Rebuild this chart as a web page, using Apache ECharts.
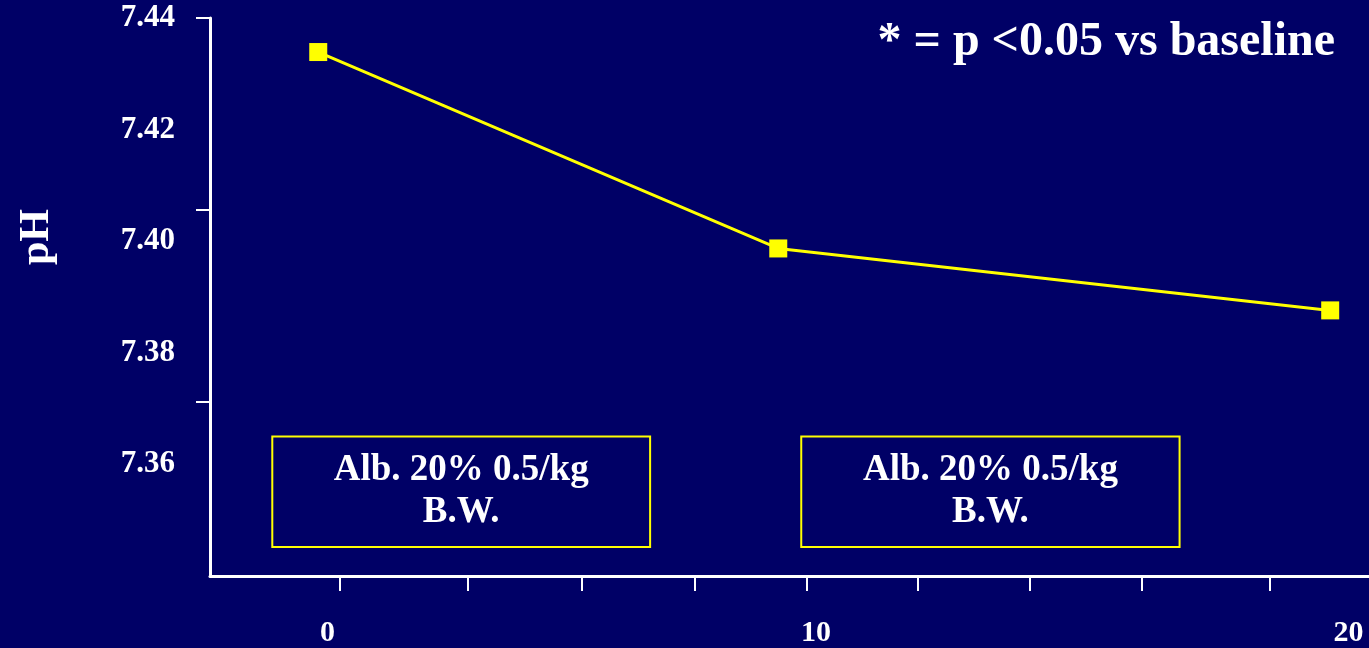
<!DOCTYPE html>
<html>
<head>
<meta charset="utf-8">
<script src="https://cdn.jsdelivr.net/npm/echarts@6/dist/echarts.min.js"></script>
<style>
html,body{margin:0;padding:0;background:#000066;}
#c{width:1369px;height:648px;}
</style>
</head>
<body>
<div id="c"></div>
<script>
// time (min) values
var timeValues = [-0.18, 8.83, 19.64];
// pH values
var phValues = [7.4339, 7.3987, 7.3876];
// axis labels / ticks (label positions as placed in the picture)
var xLabelTexts = ['0', '10', '20'];
var xLabelValues = [0, 9.57, 20];
var xTickValues = [0.25, 2.75, 4.99, 7.19, 9.38, 11.57, 13.76, 15.95, 18.45];
var yLabelValues = [7.36, 7.38, 7.40, 7.42, 7.44];
var yTickValues = [7.3713, 7.4057, 7.44];
// annotation boxes [xStart, xEnd, yLow, yHigh, text]
var boxes = [
  [-1.08, 6.32, 7.3452, 7.365, 'Alb. 20% 0.5/kg\nB.W.'],
  [9.28, 16.69, 7.3452, 7.365, 'Alb. 20% 0.5/kg\nB.W.']
];
var titleText = '* = p <0.05 vs baseline';
var yName = 'pH';

var font = 'Liberation Serif';
var chart = echarts.init(document.getElementById('c'));
var seriesData = timeValues.map(function(t, i){ return [t, phValues[i]]; });
chart.setOption({
  backgroundColor: '#000066',
  animation: false,
  title: {
    text: titleText, right: 29, top: 14,
    textStyle: {color: '#fff', fontFamily: font, fontWeight: 'bold', fontSize: 48}
  },
  graphic: [{
    type: 'text', x: 37, y: 237, rotation: Math.PI / 2,
    style: {text: yName, fill: '#fff', font: 'bold 42px "Liberation Serif"', align: 'center', verticalAlign: 'middle'}
  }],
  grid: {left: 210, right: 0, top: 18, bottom: 71, containLabel: false},
  xAxis: {
    type: 'value', min: -2.3, max: 20.4,
    axisLine: {show: true, onZero: false, lineStyle: {color: '#fff', width: 3}},
    axisTick: {show: true, customValues: xTickValues, length: 15, lineStyle: {color: '#fff', width: 2}},
    axisLabel: {customValues: xLabelValues, color: '#fff', fontFamily: font, fontWeight: 'bold', fontSize: 30, margin: 42,
      formatter: function(v){ var i = xLabelValues.indexOf(v); return i >= 0 ? xLabelTexts[i] : ''; }},
    splitLine: {show: false}
  },
  yAxis: {
    type: 'value', min: 7.34, max: 7.44,
    axisLine: {show: true, onZero: false, lineStyle: {color: '#fff', width: 3}},
    axisTick: {show: true, customValues: yTickValues, length: 14, lineStyle: {color: '#fff', width: 2}},
    axisLabel: {customValues: yLabelValues, color: '#fff', fontFamily: font, fontWeight: 'bold', fontSize: 31, margin: 35,
      padding: [12, 0, 0, 0],
      formatter: function(v){ return v.toFixed(2); }},
    splitLine: {show: false}
  },
  series: [{
    type: 'line',
    data: seriesData,
    symbol: 'rect', symbolSize: 18,
    lineStyle: {color: '#ffff00', width: 3},
    itemStyle: {color: '#ffff00'},
    z: 5,
    markArea: {
      silent: true,
      itemStyle: {color: 'rgba(0,0,0,0)', borderColor: '#ffff00', borderWidth: 2},
      label: {show: true, position: 'inside', color: '#fff', fontFamily: font, fontWeight: 'bold', fontSize: 37, lineHeight: 42, align: 'center', verticalAlign: 'middle'},
      data: boxes.map(function(b){
        return [{xAxis: b[0], yAxis: b[3], name: b[4]}, {xAxis: b[1], yAxis: b[2]}];
      })
    }
  }]
});
</script>
</body>
</html>
